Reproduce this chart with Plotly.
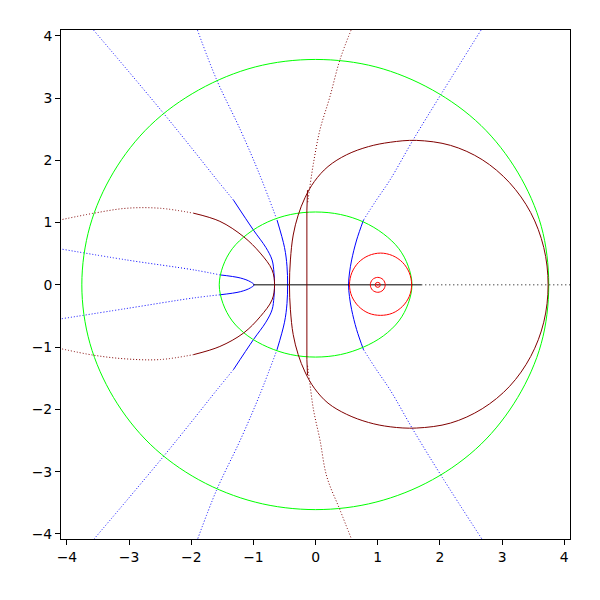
import plotly.graph_objects as go

# ---------------- data ----------------
# green level curves
green_big_x = [3.75, 3.63, 3.25, 2.66, 1.88, 0.97, 0.0, -0.97, -1.88, -2.66, -3.25, -3.63, -3.76,
               -3.63, -3.25, -2.66, -1.88, -0.97, 0.0, 0.97, 1.88, 2.66, 3.25, 3.63, 3.75]
green_big_y = [0.0, 0.94, 1.81, 2.56, 3.13, 3.50, 3.62, 3.50, 3.13, 2.56, 1.81, 0.94, 0.0,
               -0.94, -1.81, -2.56, -3.13, -3.49, -3.61, -3.49, -3.13, -2.56, -1.81, -0.94, 0.0]
green_small_x = [1.55, 1.49, 1.34, 1.09, 0.77, 0.40, 0.0, -0.40, -0.77, -1.09, -1.34, -1.49, -1.55,
                 -1.49, -1.34, -1.09, -0.77, -0.40, 0.0, 0.40, 0.77, 1.09, 1.34, 1.49, 1.55]
green_small_y = [0.0, 0.30, 0.58, 0.82, 1.01, 1.13, 1.17, 1.13, 1.01, 0.82, 0.58, 0.30, 0.0,
                 -0.30, -0.58, -0.82, -1.00, -1.12, -1.16, -1.12, -1.00, -0.82, -0.58, -0.30, 0.0]

# red circles around z = 1
red_mid_x = [1.545, 1.507, 1.399, 1.237, 1.045, 0.853, 0.691, 0.583, 0.545,
             0.583, 0.691, 0.853, 1.045, 1.237, 1.399, 1.507, 1.545]
red_mid_y = [0.0, 0.195, 0.36, 0.47, 0.51, 0.47, 0.36, 0.195, 0.0,
             -0.185, -0.345, -0.455, -0.49, -0.455, -0.345, -0.185, 0.0]
red_small_x = [1.12, 1.085, 1.0, 0.915, 0.88, 0.915, 1.0, 1.085, 1.12]
red_small_y = [0.0, 0.085, 0.12, 0.085, 0.0, -0.085, -0.12, -0.085, 0.0]
red_center_x = [1.0]
red_center_y = [0.0]

# blue curves
blueA_x = [-3.57, -3.01, -2.45, -2.02, -1.59, -1.32, -1.0, -0.80, -0.70, -0.67, -0.66,
           -0.67, -0.70, -0.80, -1.0, -1.32, -1.59, -2.02, -2.45, -3.01, -3.57]
blueA_y = [4.09, 3.43, 2.76, 2.23, 1.69, 1.36, 0.88, 0.60, 0.40, 0.20, 0.0,
           -0.20, -0.40, -0.60, -0.88, -1.36, -1.69, -2.23, -2.76, -3.43, -4.09]
blueB_x = [-1.90, -1.59, -1.21, -0.90, -0.62, -0.50, -0.46, -0.45, -0.46, -0.50, -0.62, -0.90, -1.21, -1.59, -1.90]
blueB_y = [4.09, 3.29, 2.49, 1.77, 1.04, 0.60, 0.30, 0.0, -0.30, -0.60, -1.04, -1.77, -2.49, -3.29, -4.09]
blueC_x = [2.66, 2.03, 1.57, 1.20, 0.97, 0.77, 0.66, 0.58, 0.545, 0.53, 0.545, 0.58, 0.66, 0.77, 0.97, 1.20, 1.57, 2.03, 2.68]
blueC_y = [4.09, 3.08, 2.33, 1.69, 1.35, 1.04, 0.72, 0.40, 0.19, 0.0, -0.19, -0.40, -0.72, -1.04, -1.35, -1.69, -2.33, -3.08, -4.09]
blueH_x = [-4.12, -3.04, -1.96, -1.54, -1.21, -1.05, -0.99, -1.05, -1.21, -1.54, -1.96, -3.04, -4.12]
blueH_y = [0.58, 0.40, 0.24, 0.16, 0.11, 0.05, 0.0, -0.05, -0.11, -0.16, -0.21, -0.38, -0.55]

# dark red curves
dredL_x = [-4.12, -3.57, -3.04, -2.50, -1.96, -1.54, -1.16, -0.89, -0.70, -0.66,
           -0.70, -0.89, -1.16, -1.54, -1.96, -2.50, -3.04, -3.57, -4.12]
dredL_y = [1.04, 1.15, 1.23, 1.23, 1.15, 1.02, 0.775, 0.51, 0.24, 0.0,
           -0.24, -0.51, -0.775, -0.99, -1.12, -1.20, -1.19, -1.13, -1.02]
dredE_x = [3.74, 3.67, 3.46, 3.12, 2.68, 2.17, 1.62, 1.20, 0.85, 0.50, 0.20, -0.02, -0.17, -0.28, -0.36, -0.405,
           -0.42,
           -0.405, -0.36, -0.28, -0.17, -0.02, 0.20, 0.50, 0.85, 1.20, 1.62, 2.17, 2.68, 3.12, 3.46, 3.67, 3.74]
dredE_y = [0.0, 0.60, 1.16, 1.64, 2.01, 2.24, 2.32, 2.29, 2.22, 2.09, 1.90, 1.66, 1.40, 1.12, 0.80, 0.40,
           0.0,
           -0.40, -0.80, -1.12, -1.40, -1.66, -1.90, -2.08, -2.21, -2.28, -2.30, -2.22, -1.99, -1.63, -1.15, -0.60, 0.0]
dredUp_x = [0.57, 0.39, 0.23, 0.07, -0.035, -0.10, -0.13]
dredUp_y = [4.09, 3.61, 3.02, 2.49, 1.95, 1.52, 1.30]
dredMid_x = [-0.13, -0.14, -0.14, -0.13]
dredMid_y = [1.52, 1.20, -1.20, -1.45]
dredLo_x = [-0.13, -0.10, -0.035, 0.07, 0.18, 0.39, 0.58]
dredLo_y = [-1.30, -1.52, -2.0, -2.49, -3.08, -3.61, -4.09]

# black real-axis segment
black_solid_x = [-1.0, 1.7]
black_solid_y = [0.0, 0.0]
black_dot_x = [1.7, 4.12]
black_dot_y = [0.0, 0.0]

xticks = [-4, -3, -2, -1, 0, 1, 2, 3, 4]
yticks = [-4, -3, -2, -1, 0, 1, 2, 3, 4]

BLUE = "#0000ff"
GREEN = "#00ff00"
RED = "#ff0000"
DRED = "#800000"
DOTS = "1px,2px"

fig = go.Figure()


def add(x, y, color, dash="solid", shape="spline"):
    fig.add_trace(go.Scatter(x=x, y=y, mode="lines",
                             line=dict(color=color, width=1, dash=dash, shape=shape, smoothing=1.0),
                             hoverinfo="skip", showlegend=False))


def add_split(x, y, color, a, b):
    # dotted far parts, solid middle part [a, b]
    add(x[:a + 1], y[:a + 1], color, DOTS)
    add(x[a:b + 1], y[a:b + 1], color)
    add(x[b:], y[b:], color, DOTS)


# blue
add_split(blueA_x, blueA_y, BLUE, 5, 15)
add_split(blueB_x, blueB_y, BLUE, 4, 10)
add_split(blueC_x, blueC_y, BLUE, 5, 13)
add_split(blueH_x, blueH_y, BLUE, 3, 9)
# green
add(green_big_x, green_big_y, GREEN)
add(green_small_x, green_small_y, GREEN)
# black
add(black_solid_x, black_solid_y, "#000000", "solid", "linear")
add(black_dot_x, black_dot_y, "#000000", "1px,3px", "linear")
# red
add(red_mid_x, red_mid_y, RED)
add(red_small_x, red_small_y, RED)
fig.add_trace(go.Scatter(x=red_center_x, y=red_center_y, mode="markers",
                         marker=dict(symbol="circle-open-dot", size=5, color=RED, line=dict(width=1, color=RED)),
                         hoverinfo="skip", showlegend=False))
# dark red
add_split(dredL_x, dredL_y, DRED, 4, 14)
add(dredE_x, dredE_y, DRED)
add(dredUp_x, dredUp_y, DRED, DOTS)
add(dredMid_x, dredMid_y, DRED, "solid", "linear")
add(dredLo_x, dredLo_y, DRED, DOTS)

axis_common = dict(showgrid=False, zeroline=False, showline=True, mirror=True,
                   linecolor="black", linewidth=1, ticks="outside", ticklen=5,
                   tickcolor="black", tickwidth=1,
                   tickfont=dict(family="DejaVu Sans", size=13.9, color="black"))

# the page body adds an 8px offset, so margins are reduced on the top/left
fig.update_layout(
    width=600, height=600,
    margin=dict(l=53, r=38, t=22, b=69),
    paper_bgcolor="white", plot_bgcolor="white",
    xaxis=dict(range=[-4.095, 4.092], tickvals=xticks, ticktext=[("\u2212" + str(-v)) if v < 0 else str(v) for v in xticks], **axis_common),
    yaxis=dict(range=[-4.082, 4.093], tickvals=yticks, ticktext=[("\u2212" + str(-v)) if v < 0 else str(v) for v in yticks], **axis_common),
)

fig.write_html("out.html")
